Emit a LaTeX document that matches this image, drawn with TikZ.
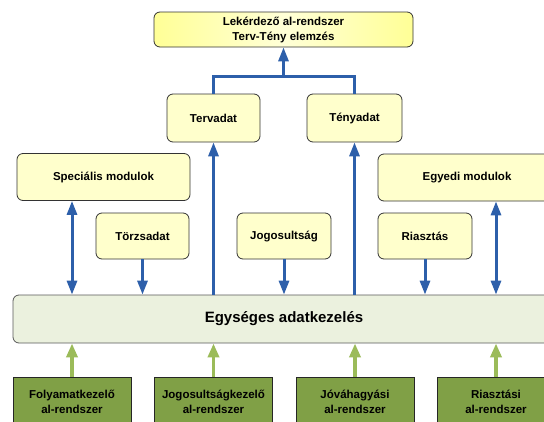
\documentclass[tikz,border=0pt]{standalone}
\usepackage{fontspec}
\setmainfont{Liberation Sans}
\usetikzlibrary{arrows.meta}
\definecolor{bluearr}{RGB}{45,95,170}
\definecolor{boxyellow}{RGB}{255,255,204}
\definecolor{topyellow}{RGB}{255,255,150}
\definecolor{toplight}{RGB}{255,255,215}
\definecolor{egyfill}{RGB}{235,241,222}
\definecolor{greenfill}{RGB}{128,160,70}
\definecolor{greenarr}{RGB}{155,187,89}
\newcommand\lblfont{\fontsize{11.5}{15}\selectfont\bfseries}
\newcommand\bigfont{\fontsize{15}{18}\selectfont\bfseries}
\tikzset{
  ybox/.style={draw=black!80, fill=boxyellow, rounded corners=6pt, line width=0.8pt,
    font=\lblfont, align=center, inner sep=0pt},
  topbox/.style={ybox, fill=none, left color=topyellow, right color=topyellow, middle color=toplight},
  ebox/.style={draw=black!65, fill=egyfill, rounded corners=6pt, line width=0.8pt,
    font=\bigfont, align=center, inner sep=0pt},
  gbox/.style={draw=black!85, fill=greenfill, line width=0.8pt,
    font=\lblfont, align=center, inner sep=0pt, minimum width=118pt, minimum height=49pt},
  bline/.style={draw=bluearr, line width=3pt},
  barrow/.style={bline, -{Triangle[width=10pt,length=14pt]}},
  bdouble/.style={bline, {Triangle[width=10pt,length=14pt]}-{Triangle[width=10pt,length=14pt]}},
  garrow/.style={draw=greenarr, line width=3.5pt, -{Triangle[width=11pt,length=14pt]}}
}
\begin{document}
\begin{tikzpicture}[x=1pt,y=-1pt]
\useasboundingbox (0,0) rectangle (544,421);
\clip (0,0) rectangle (544,421);
% top
\node[topbox, minimum width=259pt, minimum height=35pt] (top) at (283.5,29.5)
  {Lekérdező al-rendszer\\Terv-Tény elemzés};
% second row
\node[ybox, minimum width=93pt, minimum height=48pt] (terv) at (213.5,118) {Tervadat};
\node[ybox, minimum width=95pt, minimum height=48pt] (teny) at (354.5,118) {Tényadat};
% modules
\node[ybox, minimum width=173pt, minimum height=47pt] (spec) at (103.5,177) {Speciális modulok};
\node[ybox, minimum width=178pt, minimum height=47pt] (egyedi) at (467,177.5) {Egyedi modulok};
% small boxes
\node[ybox, minimum width=93pt, minimum height=46pt] (torzs) at (142.5,236) {Törzsadat};
\node[ybox, minimum width=94pt, minimum height=46pt] (jog) at (284,236) {Jogosultság};
\node[ybox, minimum width=94pt, minimum height=46pt] (riaszt) at (425,236) {Riasztás};
% central
\node[ebox, minimum width=542pt, minimum height=48pt] (egy) at (284,319) {Egységes adatkezelés};
% green boxes
\node[gbox] (g1) at (72,401.5) {Folyamatkezelő\\al-rendszer};
\node[gbox] (g2) at (213.5,401.5) {Jogosultságkezelő\\al-rendszer};
\node[gbox] (g3) at (355,401.5) {Jóváhagyási\\al-rendszer};
\node[gbox] (g4) at (496,401.5) {Riasztási\\al-rendszer};
% bracket to top
\coordinate (br) at (283.5,76);
\draw[bline] (terv.north) |- (br) -| (teny.north);
\draw[barrow] (br) -- (top.south);
% up arrows from central to terv/teny
\draw[barrow] (egy.north -| terv.south) -- (terv.south);
\draw[barrow] (egy.north -| teny.south) -- (teny.south);
% down arrows from small boxes
\draw[barrow] (torzs.south) -- (torzs.south |- egy.north);
\draw[barrow] (jog.south) -- (jog.south |- egy.north);
\draw[barrow] (riaszt.south) -- (riaszt.south |- egy.north);
% double arrows
\draw[bdouble] (spec.south -| g1.north) -- (egy.north -| g1.north);
\draw[bdouble] (egyedi.south -| g4.north) -- (egy.north -| g4.north);
% green arrows
\draw[garrow] (g1.north) -- (g1.north |- egy.south);
\draw[garrow] (g2.north) -- (g2.north |- egy.south);
\draw[garrow] (g3.north) -- (g3.north |- egy.south);
\draw[garrow] (g4.north) -- (g4.north |- egy.south);
\end{tikzpicture}
\end{document}
